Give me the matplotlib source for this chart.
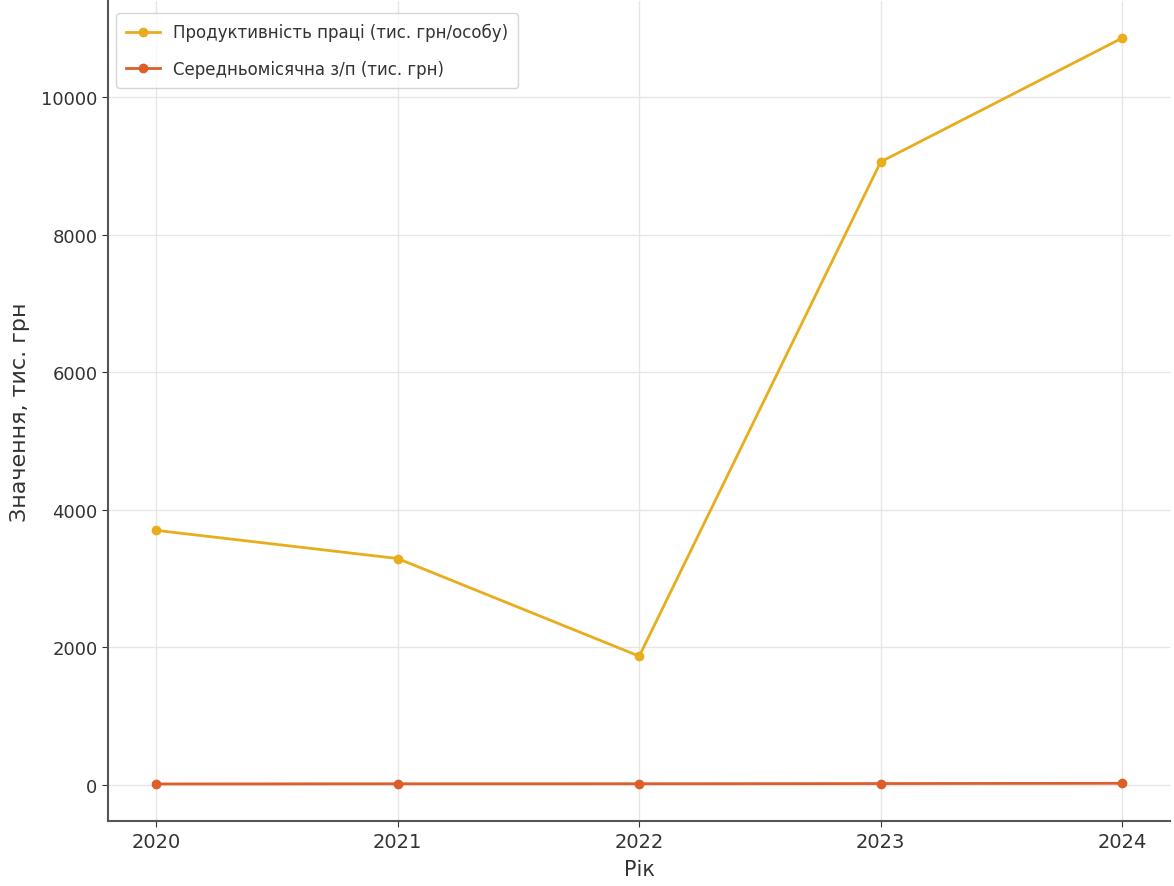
import numpy as np
import matplotlib
matplotlib.use("Agg")
import matplotlib.pyplot as plt

# labour productivity vs. average monthly wage, 2020-2024
years = [2020, 2021, 2022, 2023, 2024]
productivity = [3700, 3290, 1870, 9060, 10860]   # тис. грн/особу
avg_wage = [11.6, 14.0, 14.6, 17.4, 21.0]         # тис. грн

label_prod = "Продуктивність праці (тис. грн/особу)"
label_wage = "Середньомісячна з/п (тис. грн)"

fig = plt.figure(figsize=(11.74, 8.87), dpi=100)
ax = fig.add_axes([0.092, 0.073, 0.905, 0.925])

ax.plot(years, productivity, "o-", color="#e8ad1c", lw=2, ms=6, label=label_prod)
ax.plot(years, avg_wage, "o-", color="#dc5e2a", lw=2, ms=6, label=label_wage)

ax.set_xticks(years)
ax.set_xlabel("Рік", fontsize=15, color="#333333", labelpad=6)
ax.set_ylabel("Значення, тис. грн", fontsize=16, color="#333333", labelpad=8)
ax.tick_params(labelsize=13, colors="#333333", length=4)
ax.tick_params(axis="x", labelsize=14)

ax.grid(True, color="#e6e6e6", lw=1)
ax.set_axisbelow(True)
for s in ("top", "right"):
    ax.spines[s].set_visible(False)
for s in ("left", "bottom"):
    ax.spines[s].set_color("#555555")
    ax.spines[s].set_linewidth(1.5)

ax.legend(loc="upper left", fontsize=12, frameon=True, edgecolor="#cccccc",
          labelcolor="#333333", labelspacing=1.1, borderpad=0.6,
          bbox_to_anchor=(0.0, 0.995))

fig.savefig("out.png", dpi=100)
